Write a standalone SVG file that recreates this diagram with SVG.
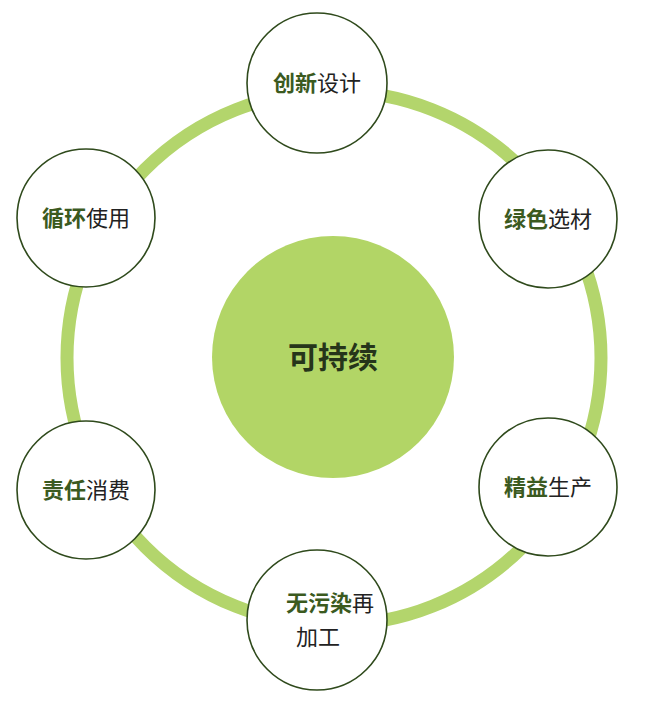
<svg xmlns="http://www.w3.org/2000/svg" width="653" height="701" viewBox="0 0 653 701">
<style>
.n{fill:#fff;stroke:#2f4a1c;stroke-width:1.6}
.t{font-family:"Noto Sans CJK SC","Noto Sans",sans-serif;font-size:22px;fill:#222;text-anchor:middle}
.b{font-weight:bold;fill:#3b5a1f}
</style>
<rect width="653" height="701" fill="#fff"/>
<g id="connectors"><circle cx="334" cy="358" r="267" fill="none" stroke="#b3d56c" stroke-width="13"/></g>
<g id="center"><circle cx="333" cy="357" r="121" fill="#b2d566"/><text x="333" y="368" class="t" style="font-size:30px;font-weight:bold;fill:#26351a">可持续</text></g>
<g id="n1"><circle class="n" cx="317" cy="83" r="70"/><text class="t" x="317" y="91"><tspan class="b">创新</tspan>设计</text></g>
<g id="n2"><circle class="n" cx="548" cy="219" r="69"/><text class="t" x="548" y="227"><tspan class="b">绿色</tspan>选材</text></g>
<g id="n3"><circle class="n" cx="548" cy="487" r="69"/><text class="t" x="548" y="495"><tspan class="b">精益</tspan>生产</text></g>
<g id="n4"><circle class="n" cx="317" cy="620" r="70"/><text class="t" x="330" y="611"><tspan class="b">无污染</tspan>再</text><text class="t" x="318" y="645">加工</text></g>
<g id="n5"><circle class="n" cx="86" cy="490" r="69"/><text class="t" x="86" y="498"><tspan class="b">责任</tspan>消费</text></g>
<g id="n6"><circle class="n" cx="86" cy="218" r="69"/><text class="t" x="86" y="226"><tspan class="b">循环</tspan>使用</text></g>
</svg>
